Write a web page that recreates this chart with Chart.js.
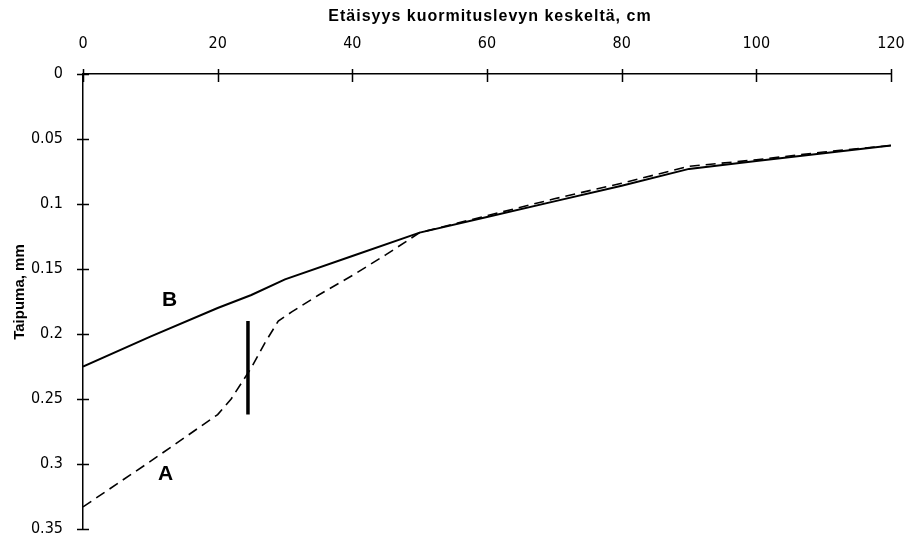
<!DOCTYPE html>
<html>
<head>
<meta charset="utf-8">
<script src="https://cdn.jsdelivr.net/npm/chart.js@4.4.0/dist/chart.umd.min.js"></script>
<style>
html,body{margin:0;padding:0;background:#fff;overflow:hidden;}
#wrap{width:915px;height:535px;}
</style>
</head>
<body>
<div id="wrap"><canvas id="c" width="915" height="535"></canvas></div>
<script>
// Distance from load plate centre (cm) and deflection (mm)
const distA = [0, 10, 20, 22, 25, 27, 29, 31, 35, 40, 45, 50, 60, 70, 80, 90, 100, 110, 120];
const defA  = [0.333, 0.298, 0.262, 0.250, 0.226, 0.207, 0.190, 0.183, 0.170, 0.155, 0.139, 0.122, 0.109, 0.096, 0.084, 0.071, 0.066, 0.060, 0.055];
const distB = [0, 10, 20, 25, 30, 40, 50, 60, 70, 80, 90, 100, 110, 120];
const defB  = [0.225, 0.202, 0.180, 0.170, 0.158, 0.140, 0.122, 0.110, 0.098, 0.086, 0.073, 0.067, 0.061, 0.055];
const barX  = [24.5, 24.5];
const barY  = [0.190, 0.262];
const xTicks = [0, 20, 40, 60, 80, 100, 120];
const yTicks = [0, 0.05, 0.1, 0.15, 0.2, 0.25, 0.3, 0.35];
const curveLabels = [{text: 'B', x: 12.85, y: 0.1742}, {text: 'A', x: 12.25, y: 0.3077}];
const xTitle = 'Etäisyys kuormituslevyn keskeltä, cm';
const yTitle = 'Taipuma, mm';

const pts = (xs, ys) => xs.map((x, i) => ({x: x, y: ys[i]}));

const deco = {
  id: 'deco',
  afterDraw(chart) {
    const ctx = chart.ctx;
    const xs = chart.scales.x, ys = chart.scales.y;
    ctx.save();
    ctx.strokeStyle = '#000';
    ctx.lineWidth = 1.5;
    const ay = ys.getPixelForValue(0);
    const ax = xs.getPixelForValue(0);
    ctx.beginPath();
    xTicks.forEach(v => {
      const px = Math.round(xs.getPixelForValue(v)) + 0.5;
      ctx.moveTo(px, ay - 5); ctx.lineTo(px, ay + 8);
    });
    yTicks.forEach(v => {
      const py = Math.round(ys.getPixelForValue(v)) + 0.5;
      ctx.moveTo(ax - 6, py); ctx.lineTo(ax + 6, py);
    });
    ctx.stroke();
    // curve labels
    ctx.fillStyle = '#000';
    ctx.font = 'bold 21px "Liberation Sans", Arial, sans-serif';
    ctx.textAlign = 'center';
    ctx.textBaseline = 'middle';
    curveLabels.forEach(l => {
      ctx.fillText(l.text, xs.getPixelForValue(l.x), ys.getPixelForValue(l.y));
    });
    // x title
    ctx.font = 'bold 16px "Liberation Sans", Arial, sans-serif';
    try { ctx.letterSpacing = '1px'; } catch (e) {}
    ctx.fillText(xTitle, (chart.chartArea.left + chart.chartArea.right) / 2 + 3, 17);
    try { ctx.letterSpacing = '0px'; } catch (e) {}
    // y title
    ctx.font = 'bold 15px "Liberation Sans", Arial, sans-serif';
    ctx.translate(20, 292);
    ctx.rotate(-Math.PI / 2);
    ctx.fillText(yTitle, 0, 0);
    ctx.restore();
  }
};

const tickFont = {family: '"DejaVu Sans Condensed", "Liberation Sans", sans-serif', size: 16};

new Chart(document.getElementById('c'), {
  type: 'line',
  data: {
    datasets: [
      {label: 'A', data: pts(distA, defA), borderColor: '#000', borderWidth: 1.6, borderDash: [10, 6], pointRadius: 0, tension: 0, fill: false},
      {label: 'B', data: pts(distB, defB), borderColor: '#000', borderWidth: 2, pointRadius: 0, tension: 0, fill: false},
      {label: 'raja', data: pts(barX, barY), borderColor: '#000', borderWidth: 3.5, pointRadius: 0, fill: false, borderCapStyle: 'butt'}
    ]
  },
  options: {
    responsive: false,
    animation: false,
    devicePixelRatio: 1,
    layout: {padding: {left: 0, top: 0, right: 24, bottom: 6}},
    plugins: {legend: {display: false}, tooltip: {enabled: false}, title: {display: false}},
    scales: {
      x: {
        type: 'linear', position: 'top', min: 0, max: 120,
        afterFit(s) { s.height = 74; s.paddingLeft = 0; s.paddingRight = 0; s.paddingTop = 0; s.paddingBottom = 0; },
        afterBuildTicks(s) { s.ticks = xTicks.map(v => ({value: v})); },
        grid: {display: false, drawTicks: false},
        border: {display: true, color: '#000', width: 1.5},
        ticks: {color: '#000', padding: 21, maxRotation: 0, autoSkip: false, font: tickFont}
      },
      y: {
        type: 'linear', reverse: true, min: 0, max: 0.35,
        afterFit(s) { s.width = 83; s.paddingLeft = 0; s.paddingRight = 0; s.paddingTop = 0; s.paddingBottom = 0; },
        afterBuildTicks(s) { s.ticks = yTicks.map(v => ({value: v})); },
        grid: {display: false, drawTicks: false},
        border: {display: true, color: '#000', width: 1.5},
        ticks: {color: '#000', padding: 20, autoSkip: false,
                callback: v => String(+v.toFixed(2)), font: tickFont}
      }
    }
  },
  plugins: [deco]
});
</script>
</body>
</html>
